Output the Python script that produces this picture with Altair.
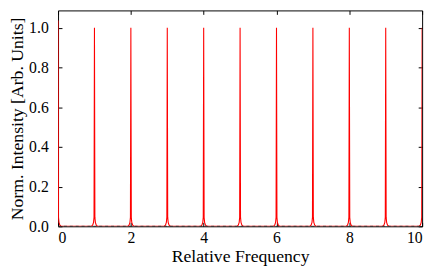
import altair as alt
import pandas as pd

# Comb peak positions and heights
peak_pos = [0, 1, 2, 3, 4, 5, 6, 7, 8, 9, 10]
peak_height = [1.036, 1.0, 1.0, 1.0, 1.0, 1.0, 1.0, 1.0, 1.0, 1.0, 1.0]

# Line shape around each peak: offsets (relative frequency) and relative levels
shape_offset = [-0.09, -0.05, -0.025, -0.012, 0.0, 0.012, 0.025, 0.05, 0.09]
shape_level = [0.0, 0.006, 0.02, 0.045, None, 0.045, 0.02, 0.006, 0.0]

x_ticks = [0, 2, 4, 6, 8, 10]
y_ticks = [0.0, 0.2, 0.4, 0.6, 0.8, 1.0]

rows = []
for p, h in zip(peak_pos, peak_height):
    for o, lv in zip(shape_offset, shape_level):
        x = p + o
        if x < 0 or x > 10:
            continue
        rows.append({"x": x, "y": h if lv is None else lv})
df = pd.DataFrame(rows).sort_values("x")

frame = pd.DataFrame({"x0": [0], "x1": [10], "y": [0.0]})

FONT = "'Liberation Serif', 'Times New Roman', 'DejaVu Serif', serif"
W, H = 371, 220

xscale = alt.Scale(domain=[0, 10], nice=False, zero=False)
yscale = alt.Scale(domain=[0, 1.087], nice=False)

line = alt.Chart(df).mark_line(color="#ff0000", strokeWidth=1.1, clip=True).encode(
    x=alt.X("x:Q", scale=xscale, title="Relative Frequency",
            axis=alt.Axis(values=x_ticks, format="d", offset=-4, tickSize=4,
                          labelPadding=4, titlePadding=2)),
    y=alt.Y("y:Q", scale=yscale, title="Norm. Intensity [Arb. Units]",
            axis=alt.Axis(values=y_ticks, format=".1f", offset=-4, tickSize=4,
                          labelPadding=10, titlePadding=2)),
)

base_rule = alt.Chart(frame).mark_rule(color="#333333", strokeDash=[3, 3], strokeWidth=1).encode(
    x=alt.X("x0:Q", scale=xscale,
            axis=alt.Axis(orient="top", values=x_ticks, labels=False, title=None,
                          offset=-4, tickSize=4)),
    x2="x1:Q",
    y=alt.Y("y:Q", scale=yscale,
            axis=alt.Axis(orient="right", values=y_ticks, labels=False, title=None,
                          offset=-4, tickSize=4)),
)

chart = alt.layer(line, base_rule).resolve_axis(x="independent", y="independent").properties(
    width=W, height=H,
    autosize=alt.AutoSizeParams(type="none"),
    padding={"left": 51, "top": 0, "right": 7, "bottom": 40},
).configure_view(stroke="black", strokeWidth=1).configure_axis(
    domain=False, grid=False, labelFont=FONT, titleFont=FONT,
    labelFontSize=16, titleFontSize=18, titleFontWeight="normal",
    labelColor="black", titleColor="black", tickColor="black", tickWidth=1,
)

chart.save("out.html", embed_options={"renderer": "svg", "actions": False})
